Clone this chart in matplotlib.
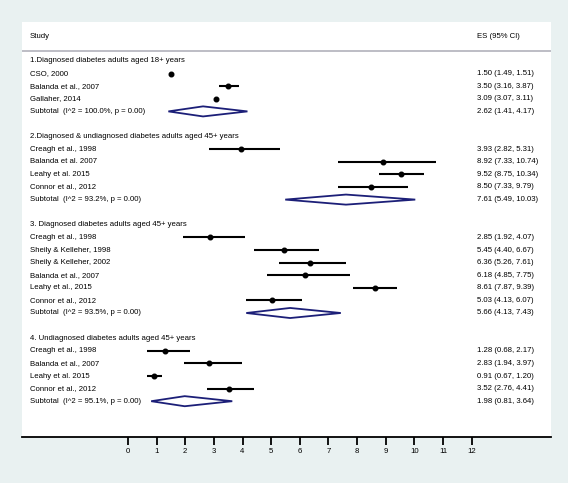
import matplotlib
matplotlib.use("Agg")
import matplotlib.pyplot as plt
from matplotlib.patches import Polygon
import matplotlib.transforms as mtransforms

plt.rcParams['font.family'] = ['Liberation Sans', 'DejaVu Sans']

# ---- data ----
group_titles = [
    "1.Diagnosed diabetes adults aged 18+ years",
    "2.Diagnosed & undiagnosed diabetes adults aged 45+ years",
    "3. Diagnosed diabetes adults aged 45+ years",
    "4. Undiagnosed diabetes adults aged 45+ years",
]
g1_studies = ["CSO, 2000", "Balanda et al., 2007", "Gallaher, 2014"]
g1_es = [1.50, 3.50, 3.09]
g1_lo = [1.49, 3.16, 3.07]
g1_hi = [1.51, 3.87, 3.11]

g2_studies = ["Creagh et al., 1998", "Balanda et al. 2007", "Leahy et al. 2015", "Connor et al., 2012"]
g2_es = [3.93, 8.92, 9.52, 8.50]
g2_lo = [2.82, 7.33, 8.75, 7.33]
g2_hi = [5.31, 10.74, 10.34, 9.79]

g3_studies = ["Creagh et al., 1998", "Sheily & Kelleher, 1998", "Sheily & Kelleher, 2002",
              "Balanda et al., 2007", "Leahy et al., 2015", "Connor et al., 2012"]
g3_es = [2.85, 5.45, 6.36, 6.18, 8.61, 5.03]
g3_lo = [1.92, 4.40, 5.26, 4.85, 7.87, 4.13]
g3_hi = [4.07, 6.67, 7.61, 7.75, 9.39, 6.07]

g4_studies = ["Creagh et al., 1998", "Balanda et al., 2007", "Leahy et al. 2015", "Connor et al., 2012"]
g4_es = [1.28, 2.83, 0.91, 3.52]
g4_lo = [0.68, 1.94, 0.67, 2.76]
g4_hi = [2.17, 3.97, 1.20, 4.41]

sub_i2 = ["100.0%", "93.2%", "93.5%", "95.1%"]
sub_es = [2.62, 7.61, 5.66, 1.98]
sub_lo = [1.41, 5.49, 4.13, 0.81]
sub_hi = [4.17, 10.03, 7.43, 3.64]

xticks = [0, 1, 2, 3, 4, 5, 6, 7, 8, 9, 10, 11, 12]

groups = [
    (g1_studies, g1_es, g1_lo, g1_hi),
    (g2_studies, g2_es, g2_lo, g2_hi),
    (g3_studies, g3_es, g3_lo, g3_hi),
    (g4_studies, g4_es, g4_lo, g4_hi),
]

# ---- figure ----
W, H = 568, 483
fig = plt.figure(figsize=(W / 100, H / 100), dpi=100)
fig.patch.set_facecolor('#e9f1f1')

left_px, right_px, top_px, bot_px = 22, 551, 22, 437
ax = fig.add_axes([left_px / W, 1 - bot_px / H, (right_px - left_px) / W, (bot_px - top_px) / H])
ax.set_facecolor('white')

ppu = 28.64  # pixels per unit
x0_px = 128
ax.set_xlim((left_px - x0_px) / ppu, (right_px - x0_px) / ppu)
row0_px, row_h = 61, 12.6
ax.set_ylim((bot_px - row0_px) / row_h, (top_px - row0_px) / row_h)

for s in ['top', 'left', 'right']:
    ax.spines[s].set_visible(False)
ax.spines['bottom'].set_linewidth(1.3)
ax.set_yticks([])
ax.set_xticks(xticks)
ax.set_xticklabels([str(t) for t in xticks], fontsize=5.6)
ax.tick_params(axis='x', direction='out', length=6, width=1.3, pad=2)

trans_text = mtransforms.blended_transform_factory(fig.transFigure, ax.transData)
lab_x = 30 / W
es_x = 477 / W
fs = 5.6

# header
ax.text(lab_x, -1.95, "Study", transform=trans_text, fontsize=fs, va='center', ha='left')
ax.text(es_x, -1.95, "ES (95% CI)", transform=trans_text, fontsize=fs, va='center', ha='left')
ax.axhline(-0.8, color='#b8b8c0', lw=1.3)

row = 0
for gi, (studies, es, lo, hi) in enumerate(groups):
    ax.text(lab_x, row, group_titles[gi], transform=trans_text, fontsize=fs, va='center', ha='left')
    row += 1
    for name, e, l, h in zip(studies, es, lo, hi):
        ax.text(lab_x, row, name, transform=trans_text, fontsize=fs, va='center', ha='left')
        ax.plot([l, h], [row, row], color='black', lw=1.5, solid_capstyle='butt')
        ax.plot([e], [row], 'o', color='black', ms=3.3)
        ax.text(es_x, row, f"{e:.2f} ({l:.2f}, {h:.2f})", transform=trans_text,
                fontsize=fs, va='center', ha='left')
        row += 1
    ax.text(lab_x, row, f"Subtotal  (I^2 = {sub_i2[gi]}, p = 0.00)", transform=trans_text,
            fontsize=fs, va='center', ha='left')
    e, l, h = sub_es[gi], sub_lo[gi], sub_hi[gi]
    d = 0.4
    ax.add_patch(Polygon([[l, row], [e, row - d], [h, row], [e, row + d]], closed=True,
                         fill=False, edgecolor='#1c1f78', lw=1.3))
    ax.text(es_x, row, f"{e:.2f} ({l:.2f}, {h:.2f})", transform=trans_text,
            fontsize=fs, va='center', ha='left')
    row += 2

fig.savefig("out.png", dpi=100, facecolor=fig.get_facecolor())
